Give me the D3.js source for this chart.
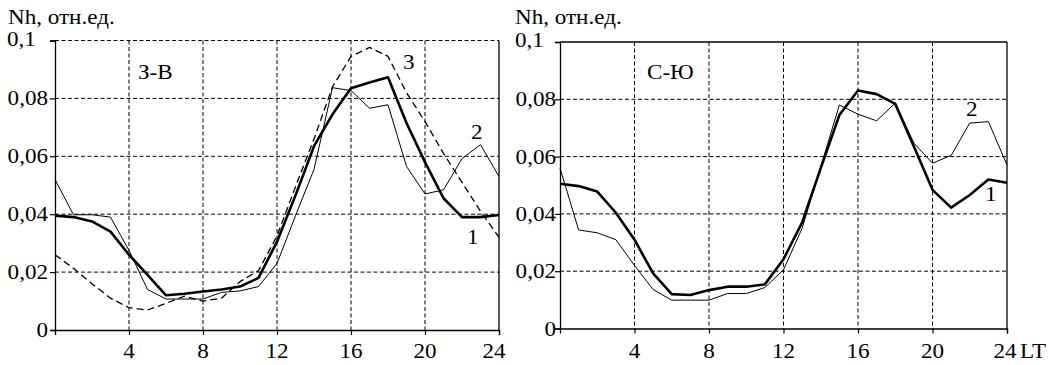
<!DOCTYPE html>
<html>
<head>
<meta charset="utf-8">
<script src="https://cdn.jsdelivr.net/npm/d3@7"></script>
<style>
  body { margin: 0; background: #fff; }
  text { font-family: "Liberation Serif", "Times New Roman", serif; font-size: 21px; fill: #000; }
</style>
</head>
<body>
<svg id="chart" width="1049" height="365"></svg>
<script>
// hours of local time
var hours = [0,1,2,3,4,5,6,7,8,9,10,11,12,13,14,15,16,17,18,19,20,21,22,23,24]
var xTicks = [4,8,12,16,20,24]
var yTicks = [0,0.02,0.04,0.06,0.08,0.1]

// west-east panel (З-В)
var ewLine1 = [0.0395,0.039,0.0375,0.034,0.026,0.019,0.012,0.0125,0.0133,0.014,0.015,0.018,0.0305,0.0465,0.0635,0.0745,0.0835,0.0855,0.0873,0.0715,0.058,0.0455,0.039,0.039,0.0397]
var ewLine2 = [0.052,0.0398,0.0398,0.039,0.0275,0.014,0.0107,0.0107,0.0107,0.013,0.0135,0.015,0.023,0.0395,0.0555,0.0837,0.0827,0.0766,0.0778,0.0565,0.047,0.0484,0.0592,0.064,0.053]
var ewLine3 = [0.026,0.0213,0.016,0.011,0.0077,0.0069,0.0092,0.0117,0.010,0.011,0.0167,0.0205,0.0325,0.0495,0.066,0.084,0.0945,0.0976,0.0945,0.082,0.072,0.061,0.051,0.041,0.032]

// north-south panel (С-Ю)
var nsLine1 = [0.0505,0.0497,0.0478,0.0404,0.031,0.0192,0.012,0.0117,0.0134,0.0146,0.0146,0.0154,0.0242,0.037,0.056,0.0745,0.0831,0.0818,0.0784,0.0635,0.0484,0.0422,0.0466,0.052,0.0509]
var nsLine2 = [0.056,0.0344,0.0334,0.031,0.022,0.0136,0.0099,0.0099,0.0099,0.0122,0.0122,0.0143,0.0205,0.035,0.0565,0.078,0.0748,0.0725,0.0787,0.0647,0.0577,0.0604,0.0717,0.0722,0.0571]

var svg = d3.select("#chart")
var stretch = 1.1   // the glyphs in the picture are a bit wider than normal

var fmt = function(v){ return v === 0 ? "0" : String(+v.toFixed(2)).replace(".", ",") }

var label = function(g, x, y, str, anchor){
    return g.append("text")
        .attr("transform", "translate(" + x + "," + y + ") scale(" + stretch + ",1)")
        .attr("text-anchor", anchor || "start")
        .text(str)
}

var drawPanel = function(p){
    var xScale = d3.scaleLinear().domain([0,24]).range([p.left, p.right])
    var yScale = d3.scaleLinear().domain([0,0.1]).range([p.bottom, p.top])
    var g = svg.append("g")

    // grid
    var gridY = p.dashTop ? yTicks.slice(1) : yTicks.slice(1, 5)
    g.selectAll(".gy").data(gridY).enter().append("line")
        .attr("x1", p.left).attr("x2", p.right)
        .attr("y1", function(d){ return yScale(d) }).attr("y2", function(d){ return yScale(d) })
        .attr("stroke", "#000").attr("stroke-width", 1).attr("stroke-dasharray", "4,2.5")
    g.selectAll(".gx").data(xTicks.slice(0, 5)).enter().append("line")
        .attr("x1", function(d){ return xScale(d) }).attr("x2", function(d){ return xScale(d) })
        .attr("y1", p.top).attr("y2", p.bottom)
        .attr("stroke", "#000").attr("stroke-width", 1).attr("stroke-dasharray", "4,2.5")

    // frame
    if (!p.dashTop) {
        g.append("line").attr("x1", p.left).attr("x2", p.right).attr("y1", p.top).attr("y2", p.top)
            .attr("stroke", "#000").attr("stroke-width", 1.3)
    }
    g.append("line").attr("x1", p.right).attr("x2", p.right).attr("y1", p.top).attr("y2", p.bottom)
        .attr("stroke", "#000").attr("stroke-width", 1.3)

    // axes
    var yAxis = d3.axisLeft(yScale).tickValues(yTicks).tickSize(5).tickFormat("")
    var xAxis = d3.axisBottom(xScale).tickValues(xTicks).tickSize(5).tickFormat("")
    var ya = g.append("g").attr("transform", "translate(" + p.left + ",0)").call(yAxis)
    var xa = g.append("g").attr("transform", "translate(0," + p.bottom + ")").call(xAxis)
    ;[ya, xa].forEach(function(a){
        a.select(".domain").attr("stroke", "#000").attr("stroke-width", 1.3)
        a.selectAll(".tick line").attr("stroke", "#000").attr("stroke-width", 1.2)
    })

    // tick labels
    yTicks.forEach(function(v){
        if (v === 0.1) label(g, p.left + p.topLabelDx, yScale(v) + 5, fmt(v), "start")
        else label(g, p.left + p.yLabelDx, yScale(v) + 7, fmt(v), "end")
    })
    xTicks.forEach(function(v){
        var dx = (v === 24) ? p.lastXdx : 0
        label(g, xScale(v) + dx, 358, String(v), "middle")
    })

    label(g, p.titleX, 24, "Nh, отн.ед.")
    label(g, p.nameX, 79, p.name)

    // series
    var line = d3.line()
        .x(function(d, i){ return xScale(hours[i]) })
        .y(function(d){ return yScale(d) })
    p.series.forEach(function(s){
        g.append("path").datum(s.values)
            .attr("d", line)
            .attr("fill", "none")
            .attr("stroke", "#000")
            .attr("stroke-width", s.width)
            .attr("stroke-linejoin", "round")
            .attr("stroke-dasharray", s.dash || null)
    })
    p.marks.forEach(function(m){ label(g, m.x, m.y, m.text) })
    return g
}

drawPanel({
    left: 55, right: 499, top: 40.5, bottom: 330,
    dashTop: true, yLabelDx: -7, topLabelDx: -48, lastXdx: -5,
    titleX: 8, nameX: 138, name: "З-В",
    series: [
        {values: ewLine3, width: 1.3, dash: "7,4"},
        {values: ewLine2, width: 1},
        {values: ewLine1, width: 2.6}
    ],
    marks: [{x: 403, y: 69, text: "3"}, {x: 471, y: 139, text: "2"}, {x: 467, y: 244, text: "1"}]
})

var right = drawPanel({
    left: 560, right: 1007, top: 42, bottom: 328.5,
    dashTop: false, yLabelDx: -4, topLabelDx: -45, lastXdx: -2,
    titleX: 515, nameX: 647, name: "С-Ю",
    series: [
        {values: nsLine2, width: 1},
        {values: nsLine1, width: 2.6}
    ],
    marks: [{x: 966, y: 116, text: "2"}, {x: 985, y: 201, text: "1"}]
})
label(right, 1020, 358, "LT")
</script>
</body>
</html>
